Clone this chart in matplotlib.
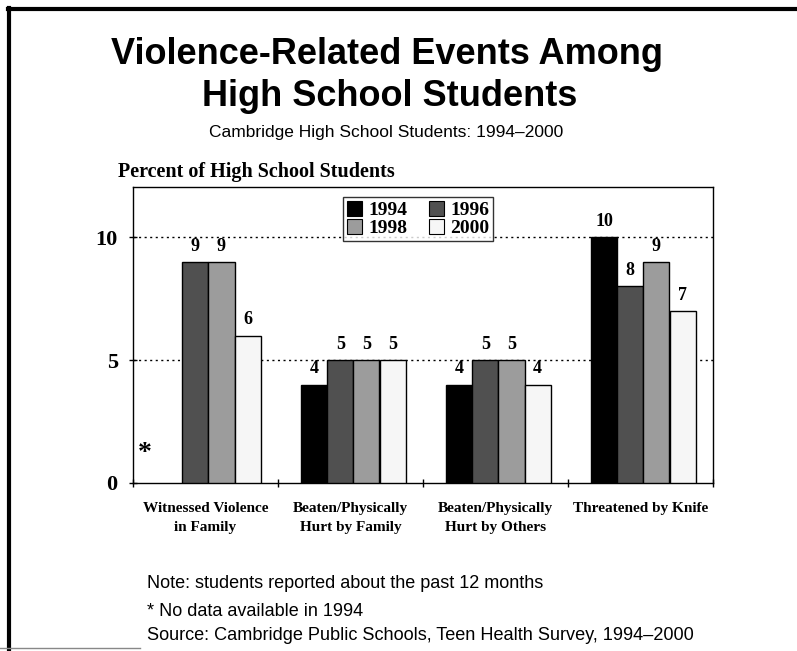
import matplotlib
matplotlib.use("Agg")
import matplotlib.pyplot as plt
from matplotlib.lines import Line2D
from matplotlib.patches import Patch
import numpy as np

categories = ["Witnessed Violence\nin Family",
              "Beaten/Physically\nHurt by Family",
              "Beaten/Physically\nHurt by Others",
              "Threatened by Knife"]
years = ["1994", "1996", "1998", "2000"]
values = {
    "1994": [None, 4, 4, 10],
    "1996": [9, 5, 5, 8],
    "1998": [9, 5, 5, 9],
    "2000": [6, 5, 4, 7],
}
yticks = [0, 5, 10]

colors = {"1994": "#000000", "1996": "#505050", "1998": "#9c9c9c", "2000": "#f6f6f6"}

W, H = 797, 651
fig = plt.figure(figsize=(W / 100, H / 100), dpi=100)
fig.patch.set_facecolor("white")

def fx(px):
    return px / W

def fy(py):
    return 1 - py / H

serif = ["Liberation Serif", "DejaVu Serif"]
sans = ["Liberation Sans", "DejaVu Sans"]

ax = fig.add_axes([fx(133), fy(483), fx(713) - fx(133), fy(187) - fy(483)])
x = np.arange(len(categories))
bw = 0.18
offsets = (np.arange(len(years)) - 1.5) * bw + 0.02

for i, yr in enumerate(years):
    for j, v in enumerate(values[yr]):
        if v is None:
            continue
        ax.bar(x[j] + offsets[i], v, width=bw, color=colors[yr],
               edgecolor="black", linewidth=1.0, zorder=3)
        ax.text(x[j] + offsets[i], v + 0.3, f"{v}", ha="center", va="bottom",
                fontsize=13, fontweight="bold", family=serif, zorder=4)

# No 1994 value for the first category
ax.text(x[0] - 0.42, 1.2, "*", ha="center", va="center", fontsize=20,
        fontweight="bold", family=serif)

ax.set_xlim(-0.5, 3.5)
ax.set_ylim(0, 12.05)
ax.set_yticks(yticks)
ax.set_yticklabels([str(t) for t in yticks], fontsize=16, fontweight="bold",
                   family=serif)
ax.set_xticks([-0.5, 0.5, 1.5, 2.5, 3.5])
ax.set_xticklabels([])
ax.set_xticks(x, minor=True)
ax.set_xticklabels(categories, minor=True, fontsize=11, fontweight="bold",
                   family=serif, linespacing=1.6)
ax.tick_params(axis="x", which="minor", length=0, pad=14)
ax.tick_params(axis="x", which="major", length=6, direction="inout", width=1)
ax.tick_params(axis="y", length=6, direction="inout", width=1, pad=8)
for yv in [5, 10]:
    ax.axhline(yv, color="black", linestyle=(0, (1.5, 2.5)), linewidth=1.0,
               zorder=1)
for s in ax.spines.values():
    s.set_linewidth(1.0)

# Two rows: 1994 1996 / 1998 2000 (legend fills column by column)
legend_order = ["1994", "1998", "1996", "2000"]
handles = [Patch(facecolor=colors[yr], edgecolor="black", linewidth=0.8,
                 label=yr) for yr in legend_order]
leg = ax.legend(handles=handles, ncol=2, loc="upper left",
                bbox_to_anchor=((343 - 133) / 580, (483 - 197) / 296),
                frameon=True, fancybox=False,
                edgecolor="black", handlelength=0.8, handleheight=0.8,
                handletextpad=0.3, columnspacing=1.1, labelspacing=0.0,
                borderpad=0.2, borderaxespad=0.0,
                prop={"family": serif, "weight": "bold", "size": 14})
leg.get_frame().set_linewidth(1.0)

fig.text(fx(118), fy(172), "Percent of High School Students", ha="left",
         va="center", fontsize=14.5, fontweight="bold", family=serif)

fig.text(fx(387), fy(55), "Violence-Related Events Among", ha="center",
         va="center", fontsize=26, fontweight="bold", family=sans)
fig.text(fx(390), fy(97), "High School Students", ha="center",
         va="center", fontsize=26, fontweight="bold", family=sans)
fig.text(fx(386), fy(133), "Cambridge High School Students: 1994\u20132000",
         ha="center", va="center", fontsize=12.5, family=sans)

fig.text(fx(147), fy(584), "Note: students reported about the past 12 months",
         ha="left", va="center", fontsize=13, family=sans)
fig.text(fx(147), fy(611), "* No data available in 1994",
         ha="left", va="center", fontsize=13, family=sans)
fig.text(fx(147), fy(636),
         "Source: Cambridge Public Schools, Teen Health Survey, 1994\u20132000",
         ha="left", va="center", fontsize=13.1, family=sans)

# Slide frame: top and left rules
fig.add_artist(Line2D([fx(8), 1.0], [fy(9), fy(9)], color="black",
                      linewidth=3, transform=fig.transFigure))
fig.add_artist(Line2D([fx(9), fx(9)], [fy(8), 0.0], color="black",
                      linewidth=3, transform=fig.transFigure))
fig.add_artist(Line2D([0.0, fx(140)], [fy(648), fy(648)], color="#888888",
                      linewidth=1, transform=fig.transFigure))

fig.savefig("out.png", dpi=100)
